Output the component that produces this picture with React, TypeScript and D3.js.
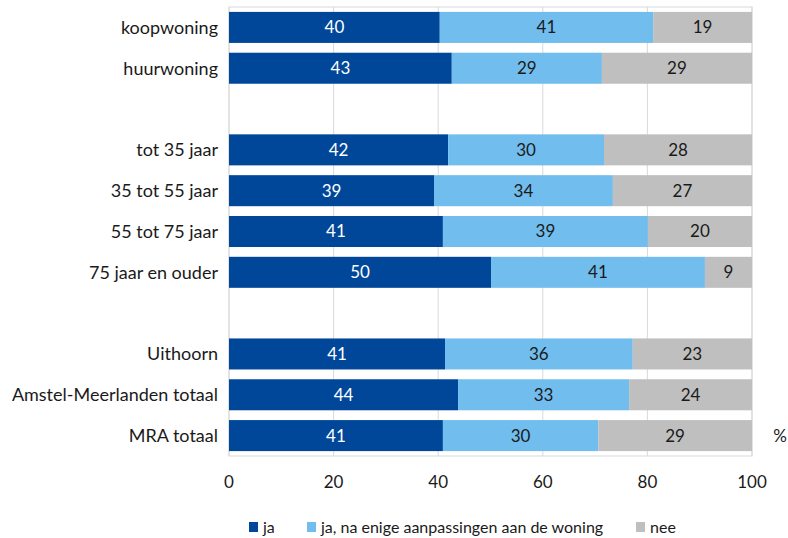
import React, { useEffect, useRef } from 'react';
import * as d3 from 'd3';

const categories = [
  'koopwoning',
  'huurwoning',
  '',
  'tot 35 jaar',
  '35 tot 55 jaar',
  '55 tot 75 jaar',
  '75 jaar en ouder',
  ' ',
  'Uithoorn',
  'Amstel-Meerlanden totaal',
  'MRA totaal',
];

const ja = [40.3, 42.6, NaN, 41.9, 39.2, 40.9, 50.1, NaN, 41.3, 43.8, 40.9];
const jaAanpassing = [40.8, 28.7, NaN, 29.8, 34.2, 39.2, 40.9, NaN, 35.9, 32.7, 29.7];
const nee = [18.9, 28.7, NaN, 28.3, 26.6, 19.9, 9.0, NaN, 22.8, 23.5, 29.4];

const seriesNames = ['ja', 'ja, na enige aanpassingen aan de woning', 'nee'];
const seriesColors = ['#00479a', '#71bdee', '#bfbfbf'];
const labelColors = ['#ffffff', '#1a1a1a', '#1a1a1a'];
const xTicks = [0, 20, 40, 60, 80, 100];

const W = 788;
const H = 538;
const FONT = 'Lato, "Open Sans", sans-serif';

const App: React.FC = () => {
  const svgRef = useRef<SVGSVGElement>(null);

  useEffect(() => {
    if (!svgRef.current) return;
    const svg = d3.select(svgRef.current);
    svg.selectAll('*').remove();

    const margin = { top: 7, right: 36, bottom: 82, left: 229 };
    const x = d3.scaleLinear().domain([0, 100]).range([margin.left, W - margin.right]);
    const y = d3
      .scaleBand()
      .domain(categories)
      .range([margin.top, H - margin.bottom])
      .paddingInner(0.24)
      .paddingOuter(0.12);

    // grid
    svg
      .append('g')
      .selectAll('line')
      .data(xTicks)
      .enter()
      .append('line')
      .attr('x1', d => x(d))
      .attr('x2', d => x(d))
      .attr('y1', margin.top)
      .attr('y2', H - margin.bottom)
      .attr('stroke', '#d9d9d9')
      .attr('stroke-width', 1);

    svg
      .append('rect')
      .attr('x', margin.left)
      .attr('y', margin.top)
      .attr('width', x(100) - x(0))
      .attr('height', H - margin.bottom - margin.top)
      .attr('fill', 'none')
      .attr('stroke', '#d9d9d9');

    const rows = categories.map((c, i) => ({ c, vals: [ja[i], jaAanpassing[i], nee[i]] }));

    rows.forEach(row => {
      if (row.vals.some(v => isNaN(v))) return;
      let acc = 0;
      row.vals.forEach((v, s) => {
        const x0 = acc;
        acc += v;
        const by = y(row.c) as number;
        svg
          .append('rect')
          .attr('x', x(x0))
          .attr('y', by)
          .attr('width', x(acc) - x(x0))
          .attr('height', y.bandwidth())
          .attr('fill', seriesColors[s]);
        svg
          .append('text')
          .attr('x', (x(x0) + x(acc)) / 2)
          .attr('y', by + y.bandwidth() / 2)
          .attr('dy', '0.35em')
          .attr('text-anchor', 'middle')
          .style('font-family', FONT)
          .style('font-size', '17px')
          .style('fill', labelColors[s])
          .text(Math.round(v));
      });
    });

    // category labels
    svg
      .append('g')
      .selectAll('text')
      .data(categories.filter(c => c.trim() !== ''))
      .enter()
      .append('text')
      .attr('x', margin.left - 11)
      .attr('y', d => (y(d) as number) + y.bandwidth() / 2)
      .attr('dy', '0.35em')
      .attr('text-anchor', 'end')
      .style('font-family', FONT)
      .style('font-size', '18px')
      .style('fill', '#1a1a1a')
      .text(d => d);

    // x tick labels
    svg
      .append('g')
      .selectAll('text')
      .data(xTicks)
      .enter()
      .append('text')
      .attr('x', d => x(d))
      .attr('y', H - margin.bottom + 26)
      .attr('dy', '0.35em')
      .attr('text-anchor', 'middle')
      .style('font-family', FONT)
      .style('font-size', '17px')
      .style('fill', '#1a1a1a')
      .text(d => d);

    // unit
    const last = categories[categories.length - 1];
    svg
      .append('text')
      .attr('x', 780)
      .attr('y', (y(last) as number) + y.bandwidth() / 2)
      .attr('dy', '0.35em')
      .attr('text-anchor', 'middle')
      .style('font-family', FONT)
      .style('font-size', '17px')
      .style('fill', '#1a1a1a')
      .text('%');

    // legend
    const legendX = [249, 307, 636];
    const legend = svg.append('g');
    seriesNames.forEach((name, i) => {
      legend
        .append('rect')
        .attr('x', legendX[i])
        .attr('y', 522)
        .attr('width', 9)
        .attr('height', 10)
        .attr('fill', seriesColors[i]);
      legend
        .append('text')
        .attr('x', legendX[i] + 14)
        .attr('y', 527)
        .attr('dy', '0.35em')
        .style('font-family', FONT)
        .style('font-size', '16px')
        .style('fill', '#1a1a1a')
        .text(name);
    });
  }, []);

  return (
    <svg
      ref={svgRef}
      width={W}
      height={H}
      style={{ position: 'absolute', left: 0, top: 0, background: '#ffffff' }}
    />
  );
};

export default App;
